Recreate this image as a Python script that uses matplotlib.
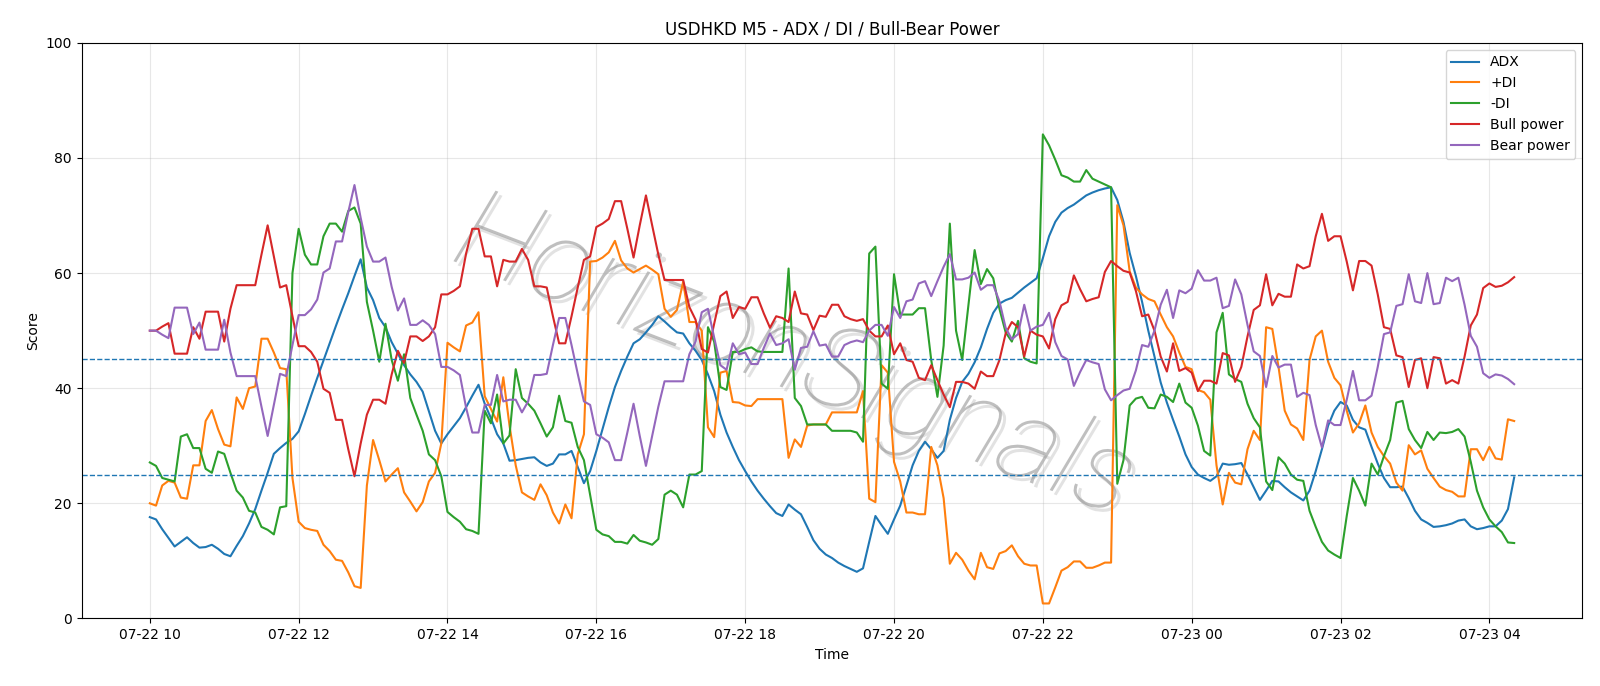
import matplotlib
matplotlib.use("Agg")
import matplotlib.pyplot as plt
import matplotlib.dates as mdates
import matplotlib.patheffects as pe
import pandas as pd

start_time = "2025-07-22 10:00"
n_points = 221

adx = [17.6, 17.2, 15.5, 14, 12.5, 13.3, 14.1, 13.1, 12.3, 12.4, 12.8, 12.1, 11.2, 10.8, 12.6, 14.3, 16.5, 19, 22.2, 25.3,
       28.6, 29.6, 30.5, 31.2, 32.5, 35.5, 38.7, 41.8, 44.8, 47.8, 50.8, 53.7, 56.5, 59.5, 62.4, 57.5, 55.3, 52.2, 50.6, 48,
       46, 44, 42.4, 41.1, 39.4, 36, 32.6, 30.4, 32, 33.4, 34.8, 36.7, 38.7, 40.6, 37.3, 34.8, 32, 30.4, 27.4, 27.5,
       27.7, 27.9, 28, 27.1, 26.5, 26.9, 28.5, 28.5, 29.1, 26.3, 23.5, 25.6, 29.1, 32.9, 36.7, 40.2, 43, 45.5, 47.8, 48.5,
       49.7, 51, 52.5, 51.6, 50.6, 49.7, 49.5, 47.8, 46.5, 44.9, 42.4, 39.5, 35.4, 32.3, 29.8, 27.5, 25.6, 23.8, 22.2, 20.8,
       19.5, 18.3, 17.8, 19.8, 18.9, 18.1, 15.9, 13.6, 12.1, 11.1, 10.5, 9.7, 9.1, 8.6, 8.1, 8.7, 13.3, 17.8, 16.2, 14.7,
       17.2, 19.6, 23.1, 26.6, 29.1, 30.7, 29.4, 27.9, 29.1, 34.5, 38.3, 41.1, 42.5, 44.5, 47.1, 50.3, 53.1, 54.7, 55.3, 55.7,
       56.6, 57.5, 58.3, 59.1, 62.6, 66.4, 68.9, 70.5, 71.3, 71.9, 72.7, 73.5, 74, 74.4, 74.7, 74.9, 72.7, 68.9, 63.5, 59.5,
       55, 50, 45.5, 41, 37.5, 34.5, 31.6, 28.5, 26.3, 25, 24.4, 23.9, 24.7, 26.9, 26.7, 26.8, 27, 25, 22.8, 20.6,
       22.2, 23.9, 23.8, 22.8, 21.9, 21.2, 20.5, 22.2, 25.6, 29.4, 33.5, 36.1, 37.6, 37, 34.5, 33.2, 32.8, 29.8, 26.9, 24.4,
       22.8, 22.8, 22.9, 20.9, 18.7, 17.2, 16.6, 15.9, 16, 16.2, 16.5, 17, 17.2, 16, 15.5, 15.7, 16, 16, 17, 19,
       24.5]

plus_di = [20, 19.6, 23.1, 23.9, 23.6, 21, 20.8, 26.6, 26.6, 34.3, 36.2, 32.9, 30.2, 29.9, 38.4, 36.4, 40, 40.3, 48.6, 48.6,
           46.2, 43.5, 43.3, 24.4, 16.8, 15.7, 15.4, 15.2, 12.8, 11.7, 10.2, 10, 8, 5.6, 5.3, 23.1, 31, 27.5, 23.8, 25,
           26.1, 21.9, 20.3, 18.6, 20.2, 23.8, 25.3, 30.4, 47.9, 47.1, 46.4, 50.9, 51.4, 53.2, 38.6, 36.4, 34.2, 41.9, 33.5, 26.6,
           21.9, 21.2, 20.6, 23.3, 21.4, 18.4, 16.5, 19.8, 17.4, 28.5, 32, 62, 62.1, 62.7, 63.6, 65.6, 62.2, 60.8, 60.1, 60.7,
           61.3, 60.6, 59.8, 53.8, 52.4, 53.6, 58.5, 51.5, 51.5, 50, 33.2, 31.5, 42.7, 43, 37.6, 37.5, 37, 36.9, 38.1, 38.1,
           38.1, 38.1, 38.1, 27.9, 31.1, 29.8, 33.5, 33.7, 33.7, 33.7, 35.8, 35.8, 35.8, 35.8, 35.8, 39.5, 20.8, 20.2, 44, 42.7,
           27.2, 23.8, 18.4, 18.4, 18.1, 18.1, 29.8, 26.6, 20.9, 9.5, 11.4, 10.2, 8.3, 6.8, 11.4, 8.9, 8.6, 11.3, 11.7, 12.7,
           10.8, 9.5, 9.2, 9.2, 2.6, 2.6, 5.4, 8.3, 8.9, 9.9, 9.9, 8.8, 8.8, 9.2, 9.7, 9.7, 71.8, 68.3, 60.3, 57.5,
           56.3, 55.5, 55.1, 52.8, 50.6, 49, 46.2, 43.7, 43.3, 39.7, 39.3, 38, 26.6, 19.8, 25.3, 23.6, 23.3, 29.4, 32.6, 31,
           50.6, 50.3, 43.7, 36.1, 33.7, 33, 31, 44.9, 49, 50, 44.6, 41.8, 40.5, 36.1, 32.3, 33.9, 37, 32.3, 29.8, 28.2,
           26.9, 23.6, 22.2, 30.1, 28.5, 29.2, 26, 24.4, 22.9, 22.3, 22, 21.2, 21.2, 29.4, 29.4, 27.5, 29.8, 27.8, 27.6, 34.6,
           34.3]

minus_di = [27.1, 26.5, 24.4, 24.1, 23.8, 31.6, 32, 29.6, 29.6, 26, 25.3, 29, 28.6, 25.3, 22.2, 21, 18.7, 18.4, 15.9, 15.4,
            14.6, 19.3, 19.5, 60, 67.7, 63.2, 61.5, 61.5, 66.4, 68.6, 68.6, 67.2, 70.8, 71.4, 68.6, 55, 50, 44.6, 51.2, 44.9,
            41.3, 45.9, 38.3, 35.4, 32.6, 28.5, 27.5, 24.7, 18.5, 17.6, 16.8, 15.5, 15.2, 14.7, 36.1, 33.9, 38.9, 30.4, 31.8, 43.3,
            38.3, 37.3, 36.1, 33.9, 31.6, 33.2, 38.7, 34.3, 34, 29.8, 27.5, 21.5, 15.4, 14.6, 14.3, 13.3, 13.3, 13, 14.5, 13.5,
            13.2, 12.8, 13.8, 21.5, 22.2, 21.5, 19.3, 25, 25, 25.6, 50.6, 48.1, 40.2, 39.7, 46.3, 46.3, 46.8, 47.1, 46.4, 46.3,
            46.3, 46.3, 46.3, 60.8, 38.3, 36.9, 33.7, 33.7, 33.7, 33.7, 32.6, 32.6, 32.6, 32.6, 32.3, 30.7, 63.4, 64.6, 40.8, 39.9,
            59.8, 52.8, 52.8, 52.8, 53.9, 53.9, 44.9, 38.5, 47.4, 68.6, 50, 44.9, 54.4, 64, 58.1, 60.7, 59.1, 53.8, 49.7, 48.1,
            51.7, 45.2, 44.6, 44.3, 84.1, 82.2, 79.7, 77, 76.6, 75.9, 75.9, 77.9, 76.4, 75.9, 75.4, 74.9, 23.4, 27.5, 37, 38.2,
            38.5, 36.6, 36.5, 38.9, 38.5, 37.6, 40.8, 37.5, 36.6, 33.5, 29.1, 28.3, 49.7, 53.1, 42.4, 41.6, 41.1, 37.3, 34.8, 33.2,
            23.8, 22.3, 28, 26.9, 25, 24.1, 23.9, 18.7, 15.9, 13.3, 11.8, 11.1, 10.5, 17.8, 24.4, 22.2, 19.6, 26.9, 25, 28.2,
            31, 37.5, 37.8, 32.9, 31, 29.6, 32.4, 31, 32.3, 32.2, 32.4, 32.9, 31.6, 27.2, 22.2, 19.3, 17.2, 16, 15, 13.2,
            13.1]

bull_power = [50, 50, 50.7, 51.3, 46, 46, 46, 50.6, 48.6, 53.3, 53.3, 53.3, 48.1, 53.8, 57.9, 57.9, 57.9, 57.9, 63.2, 68.3,
              62.9, 57.5, 57.9, 52.5, 47.3, 47.3, 46.3, 44.6, 39.9, 39.2, 34.5, 34.5, 29.4, 24.7, 30.4, 35.4, 38, 38, 37.3, 42.4,
              46.5, 44.4, 49, 49, 48.2, 49, 50.6, 56.3, 56.3, 56.9, 57.7, 63.4, 67.7, 67.7, 62.9, 62.9, 57.7, 62.3, 62, 62,
              64.2, 62.3, 57.7, 57.7, 57.5, 52.5, 47.8, 47.8, 52.5, 57.5, 62.3, 62.9, 68, 68.6, 69.4, 72.5, 72.5, 67.7, 62.7, 68.3,
              73.5, 68.3, 63.2, 58.8, 58.8, 58.8, 58.8, 54.1, 51.9, 46.8, 46.2, 51.2, 56, 56.8, 52.2, 54.1, 53.8, 55.8, 55.8, 53,
              50.5, 52.5, 52.2, 51.5, 56.8, 53, 52.8, 50.1, 52.6, 52.4, 54.5, 54.5, 52.5, 52, 51.7, 52, 50, 49, 49, 50.9,
              45.9, 47.8, 44.9, 44.6, 41.8, 41.4, 44, 41.4, 38.9, 36.7, 41.1, 41.1, 40.8, 39.9, 42.9, 42.1, 42.1, 44.9, 49.5, 51.5,
              50.6, 45.5, 50, 49.3, 49, 46.9, 52, 54.4, 55, 59.6, 57.2, 55.1, 55.5, 55.8, 60.2, 62.1, 61.2, 60.4, 60.1, 56.9,
              52.5, 52.8, 50, 45.5, 42.9, 47.8, 43, 43.5, 42.7, 39.5, 41.3, 41.3, 40.8, 46.1, 45.7, 41.1, 43.7, 49, 53.6, 54.4,
              59.8, 54.4, 56.4, 55.9, 55.9, 61.5, 60.8, 61.2, 66.4, 70.3, 65.6, 66.4, 66.4, 62, 57, 62.1, 62.1, 61.3, 56.3, 50.6,
              50.3, 45.7, 45.4, 40.2, 44.9, 45.2, 40, 45.4, 45.2, 40.8, 41.4, 40.8, 45.5, 50.9, 52.8, 57.4, 58.2, 57.6, 57.8, 58.4,
              59.3]

bear_power = [50, 50, 49.3, 48.7, 54, 54, 54, 49.4, 51.4, 46.7, 46.7, 46.7, 51.9, 46.2, 42.1, 42.1, 42.1, 42.1, 36.8, 31.7,
              37.1, 42.5, 42.1, 47.5, 52.7, 52.7, 53.7, 55.4, 60.1, 60.8, 65.5, 65.5, 70.6, 75.3, 69.6, 64.6, 62, 62, 62.7, 57.6,
              53.5, 55.6, 51, 51, 51.8, 51, 49.4, 43.7, 43.7, 43.1, 42.3, 36.6, 32.3, 32.3, 37.1, 37.1, 42.3, 37.7, 38, 38,
              35.8, 37.7, 42.3, 42.3, 42.5, 47.5, 52.2, 52.2, 47.5, 42.5, 37.7, 37.1, 32, 31.4, 30.6, 27.5, 27.5, 32.3, 37.3, 31.7,
              26.5, 31.7, 36.8, 41.2, 41.2, 41.2, 41.2, 45.9, 48.1, 53.2, 53.8, 48.8, 44, 43.2, 47.8, 45.9, 46.2, 44.2, 44.2, 47,
              49.5, 47.5, 47.8, 48.5, 43.2, 47, 47.2, 49.9, 47.4, 47.6, 45.5, 45.5, 47.5, 48, 48.3, 48, 50, 51, 51, 49.1,
              54.1, 52.2, 55.1, 55.4, 58.2, 58.6, 56, 58.6, 61.1, 63.3, 58.9, 58.9, 59.2, 60.1, 57.1, 57.9, 57.9, 55.1, 50.5, 48.5,
              49.4, 54.5, 50, 50.7, 51, 53.1, 48, 45.6, 45, 40.4, 42.8, 44.9, 44.5, 44.2, 39.8, 37.9, 38.8, 39.6, 39.9, 43.1,
              47.5, 47.2, 50, 54.5, 57.1, 52.2, 57, 56.5, 57.3, 60.5, 58.7, 58.7, 59.2, 53.9, 54.3, 58.9, 56.3, 51, 46.4, 45.6,
              40.2, 45.6, 43.6, 44.1, 44.1, 38.5, 39.2, 38.8, 33.6, 29.7, 34.4, 33.6, 33.6, 38, 43, 37.9, 37.9, 38.7, 43.7, 49.4,
              49.7, 54.3, 54.6, 59.8, 55.1, 54.8, 60, 54.6, 54.8, 59.2, 58.6, 59.2, 54.5, 49.1, 47.2, 42.6, 41.8, 42.4, 42.2, 41.6,
              40.7]

upper_level = 45
lower_level = 25

times = pd.date_range(start_time, periods=n_points, freq="5min")

fig = plt.figure(figsize=(16, 6.86), dpi=100)
ax = fig.add_axes([0.051, 0.0985, 0.938, 0.839])

ax.plot(times, adx, color="#1f77b4", lw=1.5, label="ADX")
ax.plot(times, plus_di, color="#ff7f0e", lw=1.5, label="+DI")
ax.plot(times, minus_di, color="#2ca02c", lw=1.5, label="-DI")
ax.plot(times, bull_power, color="#d62728", lw=1.5, label="Bull power")
ax.plot(times, bear_power, color="#9467bd", lw=1.5, label="Bear power")
ax.axhline(upper_level, color="#1f77b4", ls="--", lw=1)
ax.axhline(lower_level, color="#1f77b4", ls="--", lw=1)

ax.set_ylim(0, 100)
ax.xaxis.set_major_locator(mdates.HourLocator(interval=2))
ax.xaxis.set_major_formatter(mdates.DateFormatter("%m-%d %H"))
ax.grid(True, color="#b0b0b0", alpha=0.3, lw=0.8)
ax.set_title("USDHKD M5 - ADX / DI / Bull-Bear Power", fontsize=12)
ax.set_xlabel("Time")
ax.set_ylabel("Score")
ax.legend(loc="upper right")

ax.text(0.475, 0.45, "HorizonSignals", transform=ax.transAxes, fontsize=82,
        family=["Roboto", "DejaVu Sans"], fontweight=100,
        color="#8c8c8c", alpha=0.55, rotation=-21, ha="center", va="center",
        style="italic", zorder=0,
        path_effects=[pe.withSimplePatchShadow(offset=(3, -3), shadow_rgbFace="#cfcfcf", alpha=0.6)])

fig.savefig("out.png", dpi=100)
